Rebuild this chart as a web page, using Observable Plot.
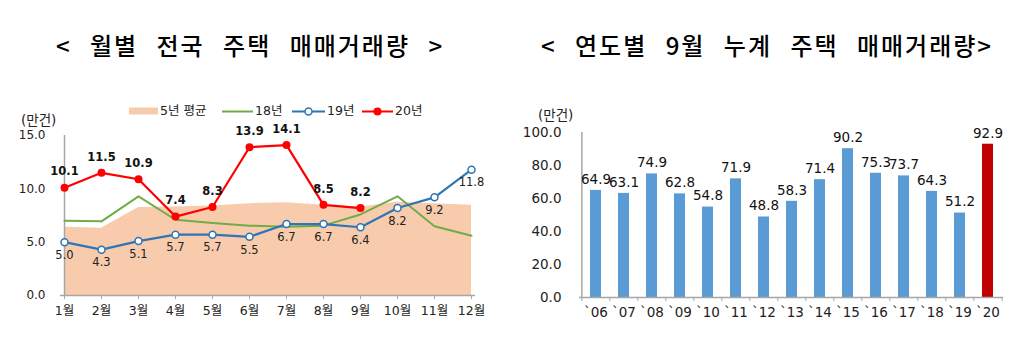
<!DOCTYPE html>
<html><head><meta charset="utf-8">
<script src="https://cdn.jsdelivr.net/npm/d3@7"></script>
<script src="https://cdn.jsdelivr.net/npm/@observablehq/plot@0.6"></script>
<style>
body{margin:0;background:#fff;}
#root{position:relative;width:1029px;height:349px;overflow:hidden;background:#fff;font-family:"DejaVu Sans","Noto Sans CJK KR",sans-serif;}
.abs{position:absolute;white-space:nowrap;}
.title{font-family:"Noto Sans CJK KR";font-weight:500;font-size:24px;color:#000;text-align:center;line-height:24px;letter-spacing:2px;word-spacing:11px;}
.unit{font-family:"DejaVu Sans","Noto Sans CJK KR";font-size:13.5px;color:#222;line-height:14px;}
.leg{font-family:"DejaVu Sans","Noto Sans CJK KR";font-size:12.5px;color:#222;line-height:14px;display:flex;align-items:center;}
.plot{position:absolute;}
</style></head><body><div id="root"></div>
<script>
// ---- Left chart data (monthly, 만건) ----
const months = ["1월","2월","3월","4월","5월","6월","7월","8월","9월","10월","11월","12월"];
const avg5 = [6.4, 6.3, 8.25, 8.3, 8.4, 8.6, 8.7, 8.45, 8.3, 8.75, 8.6, 8.45];
const y18  = [7.0, 6.95, 9.3, 7.1, 6.8, 6.55, 6.45, 6.55, 7.6, 9.3, 6.5, 5.6];
const y19  = [5.0, 4.3, 5.1, 5.7, 5.7, 5.5, 6.7, 6.7, 6.4, 8.2, 9.2, 11.8];
const y20  = [10.1, 11.5, 10.9, 7.4, 8.3, 13.9, 14.1, 8.5, 8.2];
const leftTicks = [0, 5, 10, 15];
const legendLabels = ["5년 평균", "18년", "19년", "20년"];

// ---- Right chart data (Sep cumulative, 만건) ----
const years = ["`06","`07","`08","`09","`10","`11","`12","`13","`14","`15","`16","`17","`18","`19","`20"];
const ytd   = [64.9, 63.1, 74.9, 62.8, 54.8, 71.9, 48.8, 58.3, 71.4, 90.2, 75.3, 73.7, 64.3, 51.2, 92.9];
const rightTicks = [0, 20, 40, 60, 80, 100];

const titleLeft = "< 월별 전국 주택 매매거래량 >";
const titleRight = "< 연도별 9월 누계 주택 매매거래량>";
const unitLabel = "(만건)";

const C = {area:"#F8CBAD", g:"#70AD47", b:"#2E75B6", r:"#FF0000", bar:"#5B9BD5", hi:"#C00000", axis:"#A6A6A6", txt:"#222"};

const root = document.getElementById("root");
function div(cls, text, style){const d=document.createElement("div");d.className="abs "+cls;if(text!=null)d.textContent=text;Object.assign(d.style,style);root.appendChild(d);return d;}

div("title", titleLeft, {left:"0px", top:"33px", width:"500px"});
div("title", titleRight, {left:"517px", top:"33px", width:"500px"});
div("unit", unitLabel, {left:"21px", top:"113px"});
div("unit", unitLabel, {left:"538px", top:"108px"});

// legend
function legItem(x, swatchSvg, label){
  const d = div("leg", null, {left:x+"px", top:"104px"});
  d.innerHTML = swatchSvg + `<span style="margin-left:2px">${label}</span>`;
}
legItem(129, `<svg width="29" height="14"><rect x="0" y="3.5" width="29" height="7" fill="${C.area}"/></svg>`, legendLabels[0]);
legItem(222, `<svg width="31" height="14"><line x1="0" x2="31" y1="7.5" y2="7.5" stroke="${C.g}" stroke-width="2"/></svg>`, legendLabels[1]);
legItem(292, `<svg width="33" height="14"><line x1="0" x2="33" y1="7.5" y2="7.5" stroke="${C.b}" stroke-width="2"/><circle cx="16.5" cy="7.5" r="3.5" fill="#fff" stroke="${C.b}" stroke-width="1.5"/></svg>`, legendLabels[2]);
legItem(362, `<svg width="31" height="14"><line x1="0" x2="31" y1="7.5" y2="7.5" stroke="${C.r}" stroke-width="2"/><circle cx="15.5" cy="7.5" r="4" fill="${C.r}"/></svg>`, legendLabels[3]);

// ---------- left plot ----------
const rows = months.map((m,i)=>({month:m, avg5:avg5[i], y18:y18[i], y19:y19[i]}));
const rows20 = y20.map((v,i)=>({month:months[i], v}));

const left = Plot.plot({
  width: 510, height: 259,
  marginTop: 45, marginBottom: 54, marginLeft: 60, marginRight: 35,
  style: {background:"transparent", fontFamily:'"DejaVu Sans","Noto Sans CJK KR",sans-serif', color: C.txt},
  x: {type:"point", domain: months, padding: 0},
  y: {domain:[0,15]},
  marks: [
    Plot.areaY(rows, {x:"month", y:"avg5", fill:C.area}),
    Plot.ruleX([months[0]], {stroke:C.axis, strokeWidth:1.5}),
    Plot.ruleY([0], {stroke:C.axis, strokeWidth:1.5}),
    Plot.axisY({ticks:leftTicks, tickSize:0, tickPadding:15, tickFormat:d=>d.toFixed(1), fontSize:12, fill:C.txt, label:null}),
    Plot.axisX({tickSize:4, tickPadding:7, stroke:C.axis, fontSize:12.5, fill:C.txt, label:null}),
    Plot.line(rows, {x:"month", y:"y18", stroke:C.g, strokeWidth:2}),
    Plot.line(rows, {x:"month", y:"y19", stroke:C.b, strokeWidth:2.2}),
    Plot.dot(rows, {x:"month", y:"y19", r:3.5, fill:"#fff", stroke:C.b, strokeWidth:1.5}),
    Plot.text(rows, {x:"month", y:"y19", text:d=>d.y19.toFixed(1), dy:13, fontSize:11.5, fill:C.txt}),
    Plot.line(rows20, {x:"month", y:"v", stroke:C.r, strokeWidth:2.2}),
    Plot.dot(rows20, {x:"month", y:"v", r:4, fill:C.r}),
    Plot.text(rows20, {x:"month", y:"v", text:d=>d.v.toFixed(1), dy:-16, fontSize:11.5, fontWeight:"bold", fill:"#111"})
  ]
});
left.classList.add("plot");
Object.assign(left.style, {left:"0px", top:"90px"});
root.appendChild(left);

// ---------- right plot ----------
const bars = years.map((y,i)=>({year:y, v:ytd[i]}));
const RW = 509, RML = 59, RMR = 26;
const step = (RW - RML - RMR) / years.length;
const right = Plot.plot({
  width: RW, height: 259,
  marginTop: 42, marginBottom: 52, marginLeft: RML, marginRight: RMR,
  style: {background:"transparent", fontFamily:'"DejaVu Sans","Noto Sans CJK KR",sans-serif', color: C.txt},
  x: {type:"band", domain: years, paddingInner:0.62, paddingOuter:0.31},
  y: {domain:[0,100]},
  marks: [
    Plot.barY(bars, {x:"year", y:"v", fill:d=>d.year===years[years.length-1]?C.hi:C.bar}),
    Plot.ruleX([years[0]], {dx:-step/2, stroke:C.axis, strokeWidth:1.5}),
    Plot.ruleY([0], {stroke:C.axis, strokeWidth:1.5}),
    Plot.axisY({ticks:rightTicks, tickSize:0, tickPadding:18, tickFormat:d=>d.toFixed(1), fontSize:13.5, fill:C.txt, label:null}),
    Plot.axisX({tickSize:0, tickPadding:10, fontSize:13.5, fill:C.txt, label:null}),
    Plot.axisX({ticks:years, tickSize:4, text:null, dx:-step/2, stroke:C.axis, label:null}),
    Plot.axisX({ticks:[years[years.length-1]], tickSize:4, text:null, dx:step/2, stroke:C.axis, label:null}),
    Plot.text(bars, {x:"year", y:"v", text:d=>d.v.toFixed(1), dy:-11, fontSize:13.5,
      fontWeight:d=>d.year===years[years.length-1]?"bold":"normal", fill:"#111"})
  ]
});
right.classList.add("plot");
Object.assign(right.style, {left:"520px", top:"90px"});
root.appendChild(right);
</script></body></html>
